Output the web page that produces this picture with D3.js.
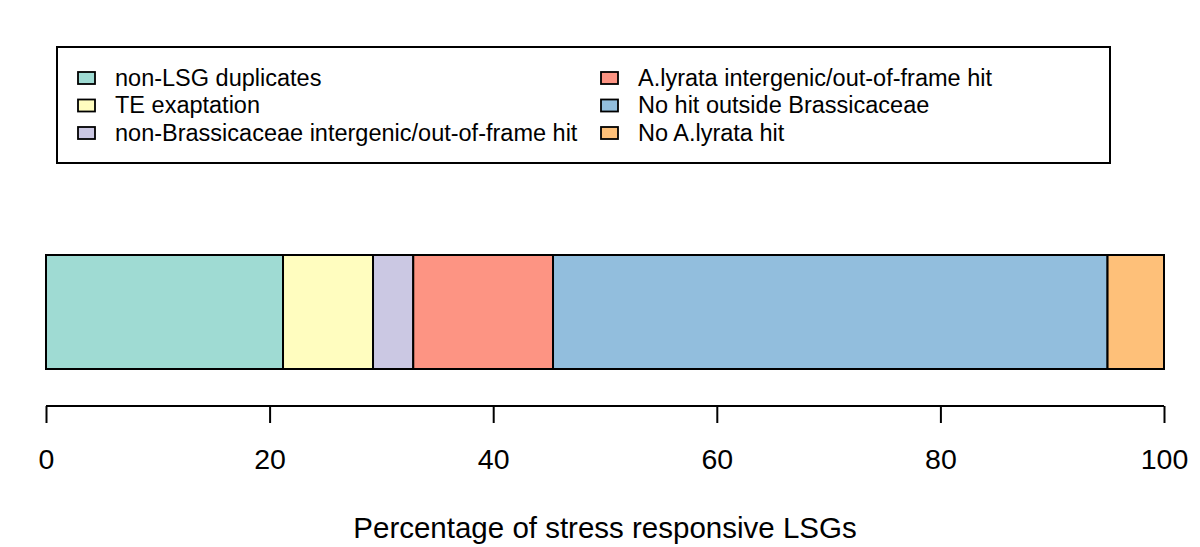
<!DOCTYPE html>
<html><head><meta charset="utf-8">
<script src="https://cdn.jsdelivr.net/npm/d3@7"></script>
<style>body{margin:0;background:#fff}svg{display:block}text{font-family:"Liberation Sans",Arial,sans-serif;fill:#000}</style>
</head><body>
<svg id="c" width="1200" height="547"></svg>
<script>
const categories = ["non-LSG duplicates","TE exaptation","non-Brassicaceae intergenic/out-of-frame hit","A.lyrata intergenic/out-of-frame hit","No hit outside Brassicaceae","No A.lyrata hit"];
const values = [21.2, 8.05, 3.6, 12.5, 49.6, 5.05];
const colors = ["#9FDBD3","#FFFDBF","#CBC8E3","#FD9483","#92BEDD","#FEC079"];
const ticks = [0,20,40,60,80,100];
const xTitle = "Percentage of stress responsive LSGs";

const svg = d3.select("#c");
const x = d3.scaleLinear().domain([0,100]).range([46,1164]);

// stacked data
let cum = 0;
const segs = values.map((v,i)=>{const s={i,x0:cum,x1:cum+v}; cum+=v; return s;});

svg.append("g").selectAll("rect").data(segs).join("rect")
  .attr("x",d=>x(d.x0)).attr("width",d=>x(d.x1)-x(d.x0))
  .attr("y",255).attr("height",114)
  .attr("fill",d=>colors[d.i]).attr("stroke","#000").attr("stroke-width",2);

// axis
const ax = svg.append("g").attr("transform","translate(0,406)")
  .call(d3.axisBottom(x).tickValues(ticks).tickSize(17).tickPadding(26).tickFormat(d3.format("d")));
ax.select(".domain").attr("stroke","#000").attr("stroke-width",2).attr("d",`M${x(0)},0H${x(100)}`);
ax.selectAll(".tick line").attr("stroke","#000").attr("stroke-width",2);
ax.selectAll(".tick text").style("font-size","28.5px").attr("font-family",null);

svg.append("text").attr("x",x(50)).attr("y",538).attr("text-anchor","middle")
  .style("font-size","29.5px").text(xTitle);

// legend
svg.append("rect").attr("x",57).attr("y",47).attr("width",1053).attr("height",116)
  .attr("fill","none").attr("stroke","#000").attr("stroke-width",2);
const lg = svg.append("g").selectAll("g").data(categories).join("g")
  .attr("transform",(d,i)=>`translate(${i<3?78:601},${78+(i%3)*27.5})`);
lg.append("rect").attr("x",0).attr("y",-6).attr("width",17).attr("height",12)
  .attr("fill",(d,i)=>colors[i]).attr("stroke","#000").attr("stroke-width",1.8);
lg.append("text").attr("x",37).attr("y",7.8).style("font-size","23.5px").text(d=>d);
</script>
</body></html>
